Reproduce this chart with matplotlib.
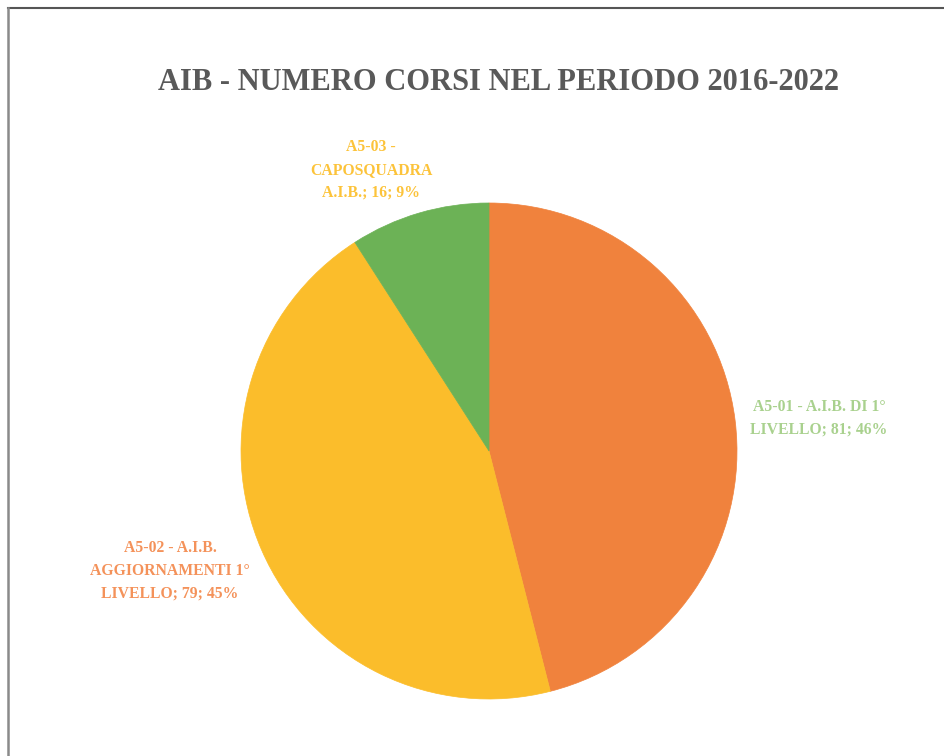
import matplotlib.pyplot as plt
from matplotlib.lines import Line2D

# data
categories = ["A5-01 - A.I.B. DI 1°\nLIVELLO", "A5-02 - A.I.B.\nAGGIORNAMENTI 1°\nLIVELLO", "A5-03 -\nCAPOSQUADRA\nA.I.B."]
counts = [81, 79, 16]
percents = [46, 45, 9]

slice_colors = ["#F0823D", "#FBBD2B", "#6CB256"]
label_colors = ["#A9D18E", "#F4925A", "#FCC33A"]
# label centres in figure pixels (x, y from top)
label_pos = [(819, 418), (170, 571), (371, 170)]

W, H = 944, 756
plt.rcParams["font.family"] = ["Liberation Serif", "DejaVu Serif"]

fig = plt.figure(figsize=(W / 100, H / 100), dpi=100)

# chart frame: top and left edges visible
fig.add_artist(Line2D([8 / W, 1], [1 - 8 / H, 1 - 8 / H], transform=fig.transFigure, color="#555555", lw=1.5))
fig.add_artist(Line2D([8 / W, 8 / W], [0, 1 - 8 / H], transform=fig.transFigure, color="#8A8A8A", lw=1.8))

cx, cy, r = 489, 451, 248
ax = fig.add_axes([(cx - r) / W, (H - cy - r) / H, 2 * r / W, 2 * r / H])
wedges, _ = ax.pie(counts, colors=slice_colors, startangle=90, counterclock=False)
for w in wedges:
    w.set_edgecolor(w.get_facecolor())
    w.set_linewidth(0.5)
ax.set_aspect("equal")
ax.set_xlim(-1, 1)
ax.set_ylim(-1, 1)

fig.text(498 / W, 1 - 83 / H, "AIB - NUMERO CORSI NEL PERIODO 2016-2022",
         ha="center", va="center", fontsize=22, fontweight="bold", color="#595959")

for cat, n, p, col, (x, y) in zip(categories, counts, percents, label_colors, label_pos):
    fig.text(x / W, 1 - y / H, f"{cat}; {n}; {p}%", ha="center", va="center",
             fontsize=11.3, fontweight="bold", color=col, linespacing=1.55)

fig.savefig("out.png", dpi=100)
